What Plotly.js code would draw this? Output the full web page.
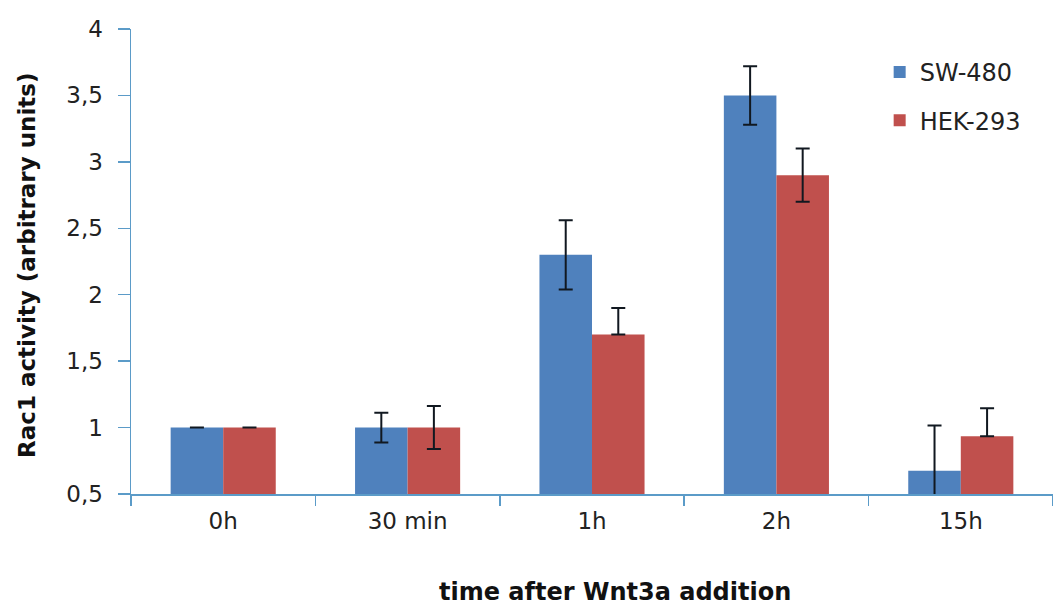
<!DOCTYPE html>
<html>
<head>
<meta charset="utf-8">
<script src="https://cdn.plot.ly/plotly-3.0.1.min.js"></script>
<style>html,body{margin:0;padding:0;background:#fff}#chart{width:1053px;height:608px}</style>
</head>
<body>
<div id="chart"></div>
<script>
const categories = ["0h", "30 min", "1h", "2h", "15h"];
const swValues = [1.0, 1.0, 2.30, 3.50, 0.675];
const swErrPlus = [0.0, 0.112, 0.26, 0.22, 0.34];
const swErrMinus = [0.0, 0.112, 0.26, 0.22, 0.34];
const hekValues = [1.0, 1.0, 1.70, 2.90, 0.935];
const hekErrPlus = [0.0, 0.162, 0.20, 0.20, 0.21];
const hekErrMinus = [0.0, 0.162, 0.0, 0.20, 0.0];
const yTickVals = [0.5, 1, 1.5, 2, 2.5, 3, 3.5, 4];
const yTickText = ["0,5", "1", "1,5", "2", "2,5", "3", "3,5", "4"];
const xTitle = "time after Wnt3a addition";
const yTitle = "Rac1 activity (arbitrary units)";

const errStyle = {color: "#111820", thickness: 2, width: 7};

const traces = [
  {
    type: "bar", name: "SW-480", x: categories, y: swValues,
    marker: {color: "#4F81BD"}, legendgroup: "a",
    error_y: Object.assign({type: "data", symmetric: false, array: swErrPlus, arrayminus: swErrMinus}, errStyle)
  },
  {
    type: "bar", name: "HEK-293", x: categories, y: hekValues,
    marker: {color: "#C0504D"}, legendgroup: "b",
    error_y: Object.assign({type: "data", symmetric: false, array: hekErrPlus, arrayminus: hekErrMinus}, errStyle)
  }
];

const fontFam = "'DejaVu Sans', sans-serif";
const layout = {
  width: 1053, height: 608,
  margin: {l: 131, r: 0, t: 29, b: 114},
  paper_bgcolor: "#ffffff", plot_bgcolor: "#ffffff",
  barmode: "group", bargap: 0.43, bargroupgap: 0,
  separators: ", ",
  font: {family: fontFam, color: "#222222", size: 22},
  showlegend: true,
  legend: {x: 0.812, y: 0.955, xanchor: "left", yanchor: "top", font: {size: 24, color: "#222222"},
           tracegroupgap: 14, bgcolor: "rgba(0,0,0,0)"},
  xaxis: {
    type: "category", tickson: "boundaries", ticks: "outside", ticklen: 10, tickwidth: 1.5,
    tickcolor: "#5B9BC8", showline: true, linecolor: "#5B9BC8", linewidth: 1.5,
    showgrid: false, zeroline: false, ticklabelstandoff: 6,
    tickfont: {size: 23, color: "#222222"}
  },
  yaxis: {
    range: [0.5, 4], tickvals: yTickVals, ticktext: yTickText, ticks: "outside", ticklen: 12, tickwidth: 1.5,
    tickcolor: "#5B9BC8", showline: true, linecolor: "#5B9BC8", linewidth: 1.5,
    showgrid: false, zeroline: false, ticklabelstandoff: 10,
    tickfont: {size: 23, color: "#222222"}
  },
  annotations: [
    {
      text: "<b>" + xTitle + "</b>", xref: "paper", yref: "paper", x: 0.525, y: -0.211,
      xanchor: "center", yanchor: "middle", showarrow: false, font: {size: 24, color: "#111111"}
    },
    {
      text: "<b>" + yTitle + "</b>", xref: "paper", yref: "paper", x: -0.1128, y: 0.4925,
      xanchor: "center", yanchor: "middle", textangle: -90, showarrow: false, font: {size: 23, color: "#111111"}
    }
  ]
};

Plotly.newPlot("chart", traces, layout, {displayModeBar: false, staticPlot: true});
</script>
</body>
</html>
